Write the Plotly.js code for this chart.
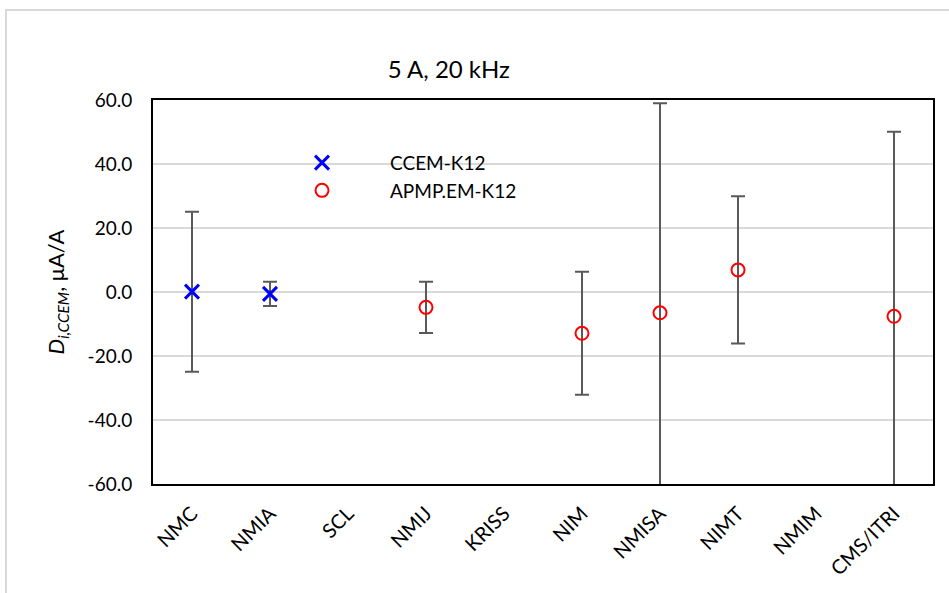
<!DOCTYPE html>
<html>
<head>
<meta charset="utf-8">
<script src="https://cdn.plot.ly/plotly-3.0.1.min.js"></script>
<style>
html,body{margin:0;padding:0;background:#fff;}
#frame{position:absolute;left:5px;top:9px;width:960px;height:600px;border:2px solid #d9d9d9;box-sizing:border-box;}
#chart{position:absolute;left:0;top:0;width:949px;height:593px;}
</style>
</head>
<body>
<div id="frame"></div>
<div id="chart"></div>
<script>
const categories = ["NMC","NMIA","SCL","NMIJ","KRISS","NIM","NMISA","NIMT","NMIM","CMS/ITRI"];
const ccemLabs = ["NMC","NMIA"];
const ccemValues = [0.1, -0.6];
const ccemUnc = [25.0, 3.8];
const apmpLabs = ["NMIJ","NIM","NMISA","NIMT","CMS/ITRI"];
const apmpValues = [-4.8, -12.9, -6.5, 6.9, -7.6];
const apmpUnc = [8.0, 19.2, 65.5, 23.0, 57.7];
const yTicks = [-60,-40,-20,0,20,40,60];
const yTickText = ["-60.0","-40.0","-20.0","0.0","20.0","40.0","60.0"];

const font = "Lato, 'Open Sans', sans-serif";
const errStyle = {type:"data", visible:true, color:"#595959", thickness:2, width:7};

const traces = [
  {
    x: ccemLabs, y: ccemValues, name: "CCEM-K12", type: "scatter", mode: "markers",
    marker: {symbol: "x-thin-open", size: 14, color: "#0000ff", line: {color: "#0000ff", width: 3}},
    error_y: Object.assign({array: ccemUnc}, errStyle)
  },
  {
    x: apmpLabs, y: apmpValues, name: "APMP.EM-K12", type: "scatter", mode: "markers",
    marker: {symbol: "circle-open", size: 13, color: "#ff0000", line: {color: "#ff0000", width: 2}},
    error_y: Object.assign({array: apmpUnc}, errStyle)
  }
];

const layout = {
  width: 949, height: 593,
  paper_bgcolor: "rgba(0,0,0,0)", plot_bgcolor: "#ffffff",
  margin: {l: 153, r: 16, t: 100, b: 109},
  font: {family: font, size: 19, color: "#000"},
  title: {text: "5 A, 20 kHz", x: 0.473, xanchor: "center", y: 0.882, yanchor: "middle", font: {family: font, size: 24, color: "#000"}},
  showlegend: true,
  legend: {x: 0.1295, y: 0.886, xanchor: "left", yanchor: "top", bgcolor: "rgba(0,0,0,0)", itemwidth: 126, font: {family: font, size: 19}, tracegroupgap: 0, traceorder: "normal"},
  shapes: [
    {type: "rect", xref: "paper", yref: "paper", x0: 0.2026, x1: 0.5026, y0: 0.797, y1: 0.870, fillcolor: "#ffffff", line: {width: 0}, layer: "between"}
  ],
  xaxis: {
    type: "category", categoryorder: "array", categoryarray: categories,
    range: [-0.5, 9.5], tickangle: -45, showgrid: false, zeroline: false,
    showline: true, mirror: true, linecolor: "#000", linewidth: 2, ticks: "",
    tickfont: {family: font, size: 20}, ticklabelstandoff: 8
  },
  yaxis: {
    range: [-60, 60], tickvals: yTicks, ticktext: yTickText, showgrid: true,
    gridcolor: "#d9d9d9", gridwidth: 2, zeroline: false,
    showline: true, mirror: true, linecolor: "#000", linewidth: 2, ticks: "",
    tickfont: {family: font, size: 19}, ticklabelstandoff: 15,
    title: {text: "<i>D</i><sub><i>i,CCEM</i></sub>, μA/A", standoff: 17, font: {family: font, size: 22}}
  }
};

Plotly.newPlot("chart", traces, layout, {displayModeBar: false, staticPlot: true});
</script>
</body>
</html>
